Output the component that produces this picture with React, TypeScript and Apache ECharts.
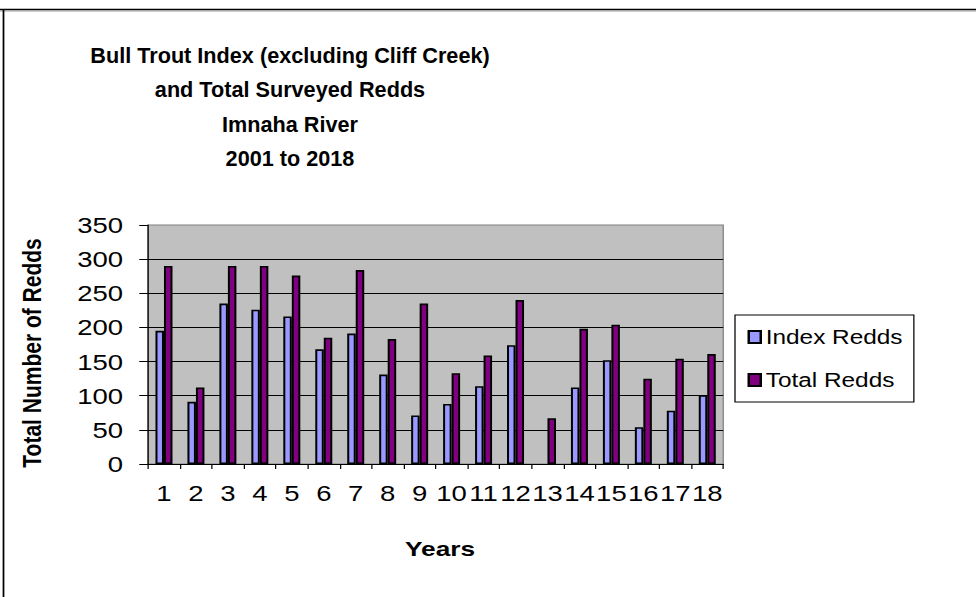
import React, { useEffect, useRef } from "react";
import * as echarts from "echarts";

const years = ["1","2","3","4","5","6","7","8","9","10","11","12","13","14","15","16","17","18"];
const indexRedds = [195, 91, 235, 226, 216, 168, 191, 131, 71, 88, 114, 174, null, 112, 152, 54, 78, 101];
const totalRedds = [290, 112, 290, 290, 276, 185, 284, 183, 235, 133, 159, 240, 67, 198, 204, 125, 154, 161];
const titleLines = ["Bull Trout Index (excluding Cliff Creek)", "and Total Surveyed Redds", "Imnaha River", "2001 to 2018"];

const SX = 1.25;
const W = 976 / SX;
const H = 597;
const FONT = '"Liberation Sans", Arial, sans-serif';

export default function App() {
  const ref = useRef<HTMLDivElement>(null);
  useEffect(() => {
    const chart = echarts.init(ref.current!, null, { renderer: "svg" });
    const left = 148 / SX;
    const right = W - 723 / SX;
    chart.setOption({
      animation: false,
      backgroundColor: "#ffffff",
      grid: {
        left,
        right,
        top: 225,
        bottom: H - 464,
        show: true,
        backgroundColor: "#C0C0C0",
        borderColor: "#808080",
        borderWidth: 1,
      },
      legend: {
        orient: "vertical",
        left: 588,
        top: 315,
        width: 144,
        padding: [12, 9, 12, 10],
        itemGap: 23,
        itemWidth: 9.6,
        itemHeight: 12,
        icon: "rect",
        borderColor: "#000",
        borderWidth: 1,
        backgroundColor: "#fff",
        textStyle: { fontFamily: FONT, fontSize: 19.5, color: "#000", padding: [0, 0, 0, -1] },
        data: ["Index Redds", "Total Redds"],
      },
      xAxis: {
        type: "category",
        data: years,
        axisLine: { lineStyle: { color: "#000", width: 1 } },
        axisTick: { show: true, length: 5, lineStyle: { color: "#000" } },
        axisLabel: { interval: 0, fontFamily: FONT, fontSize: 22, color: "#000", margin: 18 },
        splitLine: { show: false },
      },
      yAxis: {
        type: "value",
        min: 0,
        max: 350,
        interval: 50,
        axisLine: { show: true, lineStyle: { color: "#000", width: 1 } },
        axisTick: { show: true, length: 7, lineStyle: { color: "#000" } },
        axisLabel: { fontFamily: FONT, fontSize: 22, color: "#000", margin: 20 },
        splitLine: { show: true, showMaxLine: false, lineStyle: { color: "#000", width: 1 } },
      },
      series: [
        {
          name: "Index Redds",
          type: "bar",
          data: indexRedds,
          barWidth: 6.8,
          barGap: "0%",
          itemStyle: { color: "#9999FF", borderColor: "#000", borderWidth: 1.6 },
        },
        {
          name: "Total Redds",
          type: "bar",
          data: totalRedds,
          barWidth: 6.8,
          barGap: "0%",
          itemStyle: { color: "#800080", borderColor: "#000", borderWidth: 1.6 },
        },
      ],
      graphic: [
        { type: "line", shape: { x1: 0, y1: 9.5, x2: W, y2: 9.5 }, style: { stroke: "#000", lineWidth: 1.6 } },
        { type: "line", shape: { x1: 0, y1: 11, x2: W, y2: 11 }, style: { stroke: "#999", lineWidth: 1 } },
        { type: "line", shape: { x1: 2.8, y1: 9, x2: 2.8, y2: H }, style: { stroke: "#000", lineWidth: 1.4 } },
        {
          type: "text",
          x: 290 / SX,
          y: 38,
          scaleX: 0.77,
          style: {
            text: titleLines.join("\n"),
            font: `bold 22.5px ${FONT}`,
            fill: "#000",
            textAlign: "center",
            textVerticalAlign: "top",
            lineHeight: 34.4,
          },
        },
        {
          type: "text",
          x: 32 / SX,
          y: 353,
          rotation: Math.PI / 2,
          style: {
            text: "Total Number of Redds",
            font: `bold 21px ${FONT}`,
            fill: "#000",
            textAlign: "center",
            textVerticalAlign: "middle",
          },
        },
        {
          type: "text",
          x: 440 / SX,
          y: 548,
          style: {
            text: "Years",
            font: `bold 21px ${FONT}`,
            fill: "#000",
            textAlign: "center",
            textVerticalAlign: "middle",
          },
        },
      ],
    });
    return () => chart.dispose();
  }, []);
  return (
    <div
      ref={ref}
      style={{
        position: "absolute",
        left: 0,
        top: 0,
        width: W,
        height: H,
        transform: `scaleX(${SX})`,
        transformOrigin: "0 0",
        background: "#fff",
      }}
    />
  );
}
